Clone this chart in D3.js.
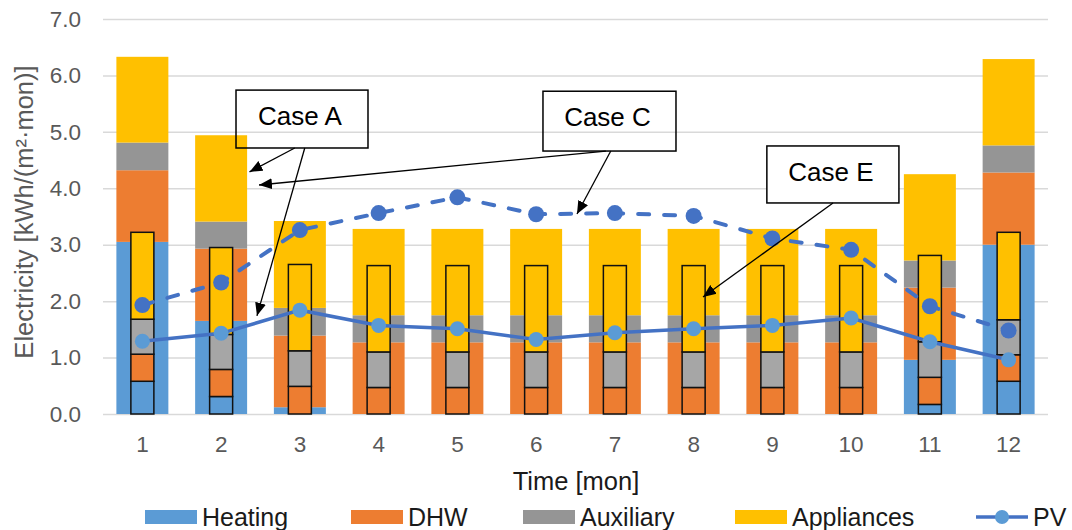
<!DOCTYPE html>
<html>
<head>
<meta charset="utf-8">
<script src="https://cdn.jsdelivr.net/npm/d3@7"></script>
<style>
body{margin:0;background:#fff;}
svg{display:block;font-family:"Liberation Sans",Arial,sans-serif;}
</style>
</head>
<body>
<script>
//monthly values, kWh/(m2.mon)
var months = [1,2,3,4,5,6,7,8,9,10,11,12];
var keys = ["Heating","DHW","Auxiliary","Appliances"];

//Case A (wide bars)
var heatingA = [3.05,1.65,0.12,0,0,0,0,0,0,0,0.96,3.00];
var dhwA     = [1.27,1.28,1.27,1.27,1.27,1.27,1.27,1.27,1.27,1.27,1.28,1.28];
var auxA     = [0.49,0.48,0.49,0.48,0.48,0.48,0.48,0.48,0.48,0.48,0.48,0.48];
var appA     = [1.52,1.53,1.54,1.53,1.53,1.53,1.53,1.53,1.53,1.53,1.53,1.53];

//Case E (narrow outlined bars)
var heatingE = [0.58,0.31,0,0,0,0,0,0,0,0,0.17,0.58];
var dhwE     = [0.48,0.48,0.49,0.47,0.47,0.47,0.47,0.47,0.47,0.47,0.48,0.47];
var auxE     = [0.62,0.62,0.63,0.63,0.63,0.63,0.63,0.63,0.63,0.63,0.63,0.62];
var appE     = [1.54,1.54,1.53,1.53,1.53,1.53,1.53,1.53,1.53,1.53,1.53,1.55];

//PV generation
var pvE = [1.29,1.43,1.84,1.57,1.51,1.32,1.44,1.51,1.57,1.70,1.28,0.96];
var pvC = [1.93,2.33,3.26,3.56,3.84,3.54,3.56,3.51,3.11,2.91,1.91,1.48];

var yTicks = [0,1,2,3,4,5,6,7];

//callouts in data units: [month left, month right, value top, value bottom]
var caseLabels = ["Case A","Case C","Case E"];
var caseBoxes = [[2.189,3.865,5.74,4.714],[6.087,7.776,5.72,4.66],[8.93,10.607,4.75,3.74]];
//[box index, from month, from value, to month, to value]
var caseArrows = [[0,2.935,4.714,2.36,4.29],[0,3.062,4.714,2.455,1.74],
                  [1,6.885,4.66,2.481,4.058],[1,6.948,4.66,6.519,3.544],
                  [2,9.77,3.74,8.119,2.073]];

var colorsWide = {Heating:"#5B9BD5", DHW:"#ED7D31", Auxiliary:"#959595", Appliances:"#FFC000"};
var colorsNarrow = {Heating:"#5B9BD5", DHW:"#ED7D31", Auxiliary:"#A6A6A6", Appliances:"#FFC000"};

var width = 1072, height = 530;
var svg = d3.select("body").append("svg")
    .attr("width", width)
    .attr("height", height);

var defs = svg.append("defs");
defs.append("marker")
    .attr("id", "arrow")
    .attr("viewBox", "0 -6 14 12")
    .attr("refX", 13).attr("refY", 0)
    .attr("markerUnits", "userSpaceOnUse")
    .attr("markerWidth", 14).attr("markerHeight", 12)
    .attr("orient", "auto")
    .append("path")
    .attr("d", "M0,-5.5L13,0L0,5.5Z")
    .attr("fill", "#000");

var x = d3.scaleBand().domain(months).range([103, 1048]).paddingInner(0.34).paddingOuter(0.17);
var y = d3.scaleLinear().domain([0, 7]).range([414, 19]);
var bw = x.bandwidth(), nw = 23;
var xc = d3.scaleLinear().domain([1, 12]).range([x(1) + bw / 2, x(12) + bw / 2]);

//gridlines + y labels
var yAxis = svg.append("g")
    .attr("transform", "translate(103,0)")
    .call(d3.axisLeft(y).tickValues(yTicks).tickSize(-945).tickPadding(22).tickFormat(d3.format(".1f")));
yAxis.select(".domain").remove();
yAxis.selectAll("line").attr("stroke", "#D9D9D9").attr("stroke-width", 1.5);
yAxis.selectAll("text").attr("fill", "#595959").style("font-size", "22.5px").attr("font-family", null);

//x labels
var xAxis = svg.append("g")
    .attr("transform", "translate(0,414)")
    .call(d3.axisBottom(x).tickSize(0).tickPadding(22));
xAxis.select(".domain").remove();
xAxis.selectAll("text").attr("fill", "#595959").style("font-size", "22.5px").attr("font-family", null);

function makeRows(h, d, a, p){
    return months.map(function(m, i){
        return {month: m, Heating: h[i], DHW: d[i], Auxiliary: a[i], Appliances: p[i]};
    });
}
var stack = d3.stack().keys(keys);
var seriesA = stack(makeRows(heatingA, dhwA, auxA, appA));
var seriesE = stack(makeRows(heatingE, dhwE, auxE, appE));

//wide bars (Case A)
svg.append("g").selectAll("g")
    .data(seriesA)
    .enter().append("g")
    .attr("fill", function(s){ return colorsWide[s.key]; })
    .selectAll("rect")
    .data(function(s){ return s.filter(function(d){ return d[1] - d[0] > 0; }); })
    .enter().append("rect")
    .attr("x", function(d){ return x(d.data.month); })
    .attr("y", function(d){ return y(d[1]); })
    .attr("width", bw)
    .attr("height", function(d){ return y(d[0]) - y(d[1]); });

//narrow bars (Case E)
svg.append("g").selectAll("g")
    .data(seriesE)
    .enter().append("g")
    .attr("fill", function(s){ return colorsNarrow[s.key]; })
    .attr("stroke", "#111")
    .attr("stroke-width", 1.5)
    .selectAll("rect")
    .data(function(s){ return s.filter(function(d){ return d[1] - d[0] > 0; }); })
    .enter().append("rect")
    .attr("x", function(d){ return x(d.data.month) + (bw - nw) / 2; })
    .attr("y", function(d){ return y(d[1]); })
    .attr("width", nw)
    .attr("height", function(d){ return y(d[0]) - y(d[1]); });

//PV lines
var line = d3.line()
    .x(function(d, i){ return x(months[i]) + bw / 2; })
    .y(function(d){ return y(d); });

svg.append("path")
    .datum(pvE)
    .attr("d", line)
    .attr("fill", "none")
    .attr("stroke", "#4472C4")
    .attr("stroke-width", 3.5);
svg.append("g").selectAll("circle")
    .data(pvE)
    .enter().append("circle")
    .attr("cx", function(d, i){ return x(months[i]) + bw / 2; })
    .attr("cy", function(d){ return y(d); })
    .attr("r", 7.5)
    .attr("fill", "#5B9BD5");

svg.append("path")
    .datum(pvC)
    .attr("d", line)
    .attr("fill", "none")
    .attr("stroke", "#4472C4")
    .attr("stroke-width", 4)
    .attr("stroke-linecap", "round")
    .attr("stroke-dasharray", "11,15");
svg.append("g").selectAll("circle")
    .data(pvC)
    .enter().append("circle")
    .attr("cx", function(d, i){ return x(months[i]) + bw / 2; })
    .attr("cy", function(d){ return y(d); })
    .attr("r", 8)
    .attr("fill", "#4472C4");

//callouts
var notes = svg.append("g");
notes.selectAll("rect")
    .data(caseBoxes)
    .enter().append("rect")
    .attr("x", function(b){ return xc(b[0]); })
    .attr("y", function(b){ return y(b[2]); })
    .attr("width", function(b){ return xc(b[1]) - xc(b[0]); })
    .attr("height", function(b){ return y(b[3]) - y(b[2]); })
    .attr("fill", function(b, i){ return i == 2 ? "#fff" : "none"; })
    .attr("stroke", "#000")
    .attr("stroke-width", 1.5);
notes.selectAll("text")
    .data(caseBoxes)
    .enter().append("text")
    .attr("x", function(b){ return (xc(b[0]) + xc(b[1])) / 2 - 2; })
    .attr("y", function(b){ return y(b[2]) + 35; })
    .attr("text-anchor", "middle")
    .style("font-size", "26px")
    .attr("fill", "#000")
    .text(function(b, i){ return caseLabels[i]; });
notes.selectAll("line")
    .data(caseArrows)
    .enter().append("line")
    .attr("x1", function(a){ return xc(a[1]); })
    .attr("y1", function(a){ return y(a[2]); })
    .attr("x2", function(a){ return xc(a[3]); })
    .attr("y2", function(a){ return y(a[4]); })
    .attr("stroke", "#000")
    .attr("stroke-width", 1.3)
    .attr("marker-end", "url(#arrow)");

//axis titles
svg.append("text")
    .attr("transform", "translate(33,212) rotate(-90)")
    .attr("text-anchor", "middle")
    .attr("fill", "#595959")
    .style("font-size", "25.5px")
    .text("Electricity [kWh/(m\u00B2\u00B7mon)]");
svg.append("text")
    .attr("x", 576).attr("y", 490)
    .attr("text-anchor", "middle")
    .attr("fill", "#1a1a1a")
    .style("font-size", "25.5px")
    .text("Time [mon]");

//legend
var legendX = [145, 351, 523, 735];
var legend = svg.append("g");
keys.forEach(function(k, i){
    legend.append("rect")
        .attr("x", legendX[i]).attr("y", 510)
        .attr("width", 52).attr("height", 14)
        .attr("fill", colorsWide[k]);
    legend.append("text")
        .attr("x", legendX[i] + 57).attr("y", 526)
        .attr("fill", "#1a1a1a")
        .style("font-size", "25px")
        .text(k);
});
legend.append("line")
    .attr("x1", 976).attr("x2", 1028).attr("y1", 517).attr("y2", 517)
    .attr("stroke", "#4472C4").attr("stroke-width", 3.5);
legend.append("circle")
    .attr("cx", 1002).attr("cy", 517).attr("r", 7)
    .attr("fill", "#5B9BD5");
legend.append("text")
    .attr("x", 1033).attr("y", 526)
    .attr("fill", "#1a1a1a")
    .style("font-size", "25px")
    .text("PV");
</script>
</body>
</html>
